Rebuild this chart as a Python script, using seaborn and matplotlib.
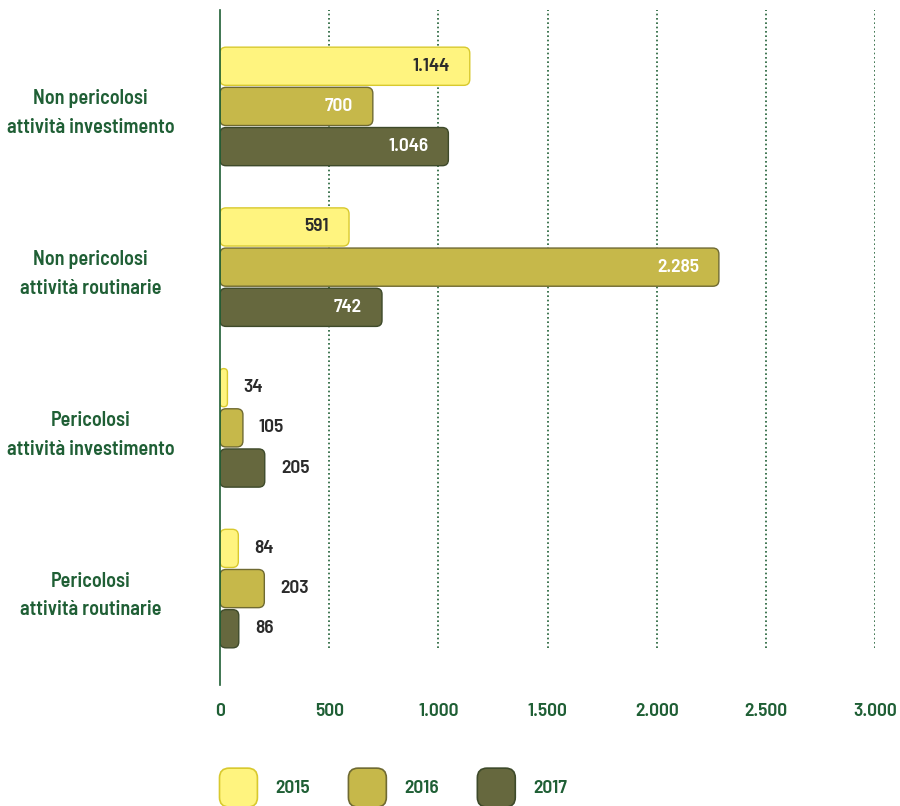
import matplotlib
matplotlib.use("Agg")
import matplotlib.pyplot as plt
from matplotlib.patches import FancyBboxPatch
from matplotlib.legend_handler import HandlerPatch
import seaborn as sns
import pandas as pd

categories = [
    "Non pericolosi\nattività investimento",
    "Non pericolosi\nattività routinarie",
    "Pericolosi\nattività investimento",
    "Pericolosi\nattività routinarie",
]
years = ["2015", "2016", "2017"]
values_2015 = [1144, 591, 34, 84]
values_2016 = [700, 2285, 105, 203]
values_2017 = [1046, 742, 205, 86]
x_ticks = [0, 500, 1000, 1500, 2000, 2500, 3000]
x_tick_labels = ["0", "500", "1.000", "1.500", "2.000", "2.500", "3.000"]

fill_colors = {"2015": "#fff47f", "2016": "#c6b84a", "2017": "#66683e"}
edge_colors = {"2015": "#d8c92e", "2016": "#6f6a32", "2017": "#3e4a2a"}
text_colors = {"2015": "#2b2b2b", "2016": "#ffffff", "2017": "#ffffff"}
green = "#1f5f35"

sns.set_theme(style="white")
plt.rcParams["font.family"] = ["Barlow Semi Condensed", "Barlow Condensed",
                               "Roboto Condensed", "Liberation Sans Narrow",
                               "DejaVu Sans"]
FS = 14
FW = 600

df = pd.DataFrame({
    "categoria": categories * 3,
    "anno": [y for y in years for _ in categories],
    "valore": values_2015 + values_2016 + values_2017,
})

fig = plt.figure(figsize=(9, 8.06), dpi=100)
ax = fig.add_axes([220 / 900, 1 - 685 / 806, 655 / 900, 675 / 806])

sns.barplot(data=df, y="categoria", x="valore", hue="anno", order=categories,
            hue_order=years, orient="h", width=0.75, gap=0.05,
            palette=fill_colors, ax=ax, legend=False)

ax.set_xlim(0, 3000)
ax.set_ylim(3.6, -0.6)

# Replace the plain rectangles with rounded bars
x_per_px = 3000 / 655
y_per_px = 4.2 / 675
aspect = y_per_px / x_per_px
bars = list(ax.patches)
for i, p in enumerate(bars):
    yr = years[i // len(categories)]
    x0, y0 = p.get_x(), p.get_y()
    w, h = p.get_width(), p.get_height()
    p.remove()
    r = min(6 * x_per_px, w / 2)
    fb = FancyBboxPatch((x0, y0), w, h,
                        boxstyle=f"round,pad=0,rounding_size={r}",
                        mutation_aspect=aspect,
                        facecolor=fill_colors[yr], edgecolor=edge_colors[yr],
                        linewidth=1.0, zorder=3)
    ax.add_patch(fb)
    val = w
    label = f"{int(round(val)):,}".replace(",", ".")
    yc = y0 + h / 2
    if val >= 500:
        ax.text(val - 20 * x_per_px, yc, label, ha="right", va="center",
                color=text_colors[yr], fontsize=FS, fontweight=FW, zorder=4)
    else:
        ax.text(val + 16 * x_per_px, yc, label, ha="left", va="center",
                color="#2b2b2b", fontsize=FS, fontweight=FW, zorder=4)

# Dotted gridlines (stopping short of the bottom) and the zero axis
ax.set_axisbelow(True)
for t in x_ticks[1:]:
    ax.axvline(t, ymin=37 / 675, ymax=1, color=green,
               linestyle=(0, (1, 1.6)), linewidth=1.2, zorder=0.5)
for s in ["top", "right", "bottom"]:
    ax.spines[s].set_visible(False)
ax.spines["left"].set_color(green)
ax.spines["left"].set_linewidth(1.2)
ax.spines["left"].set_zorder(5)

ax.set_xticks(x_ticks)
ax.set_xticklabels(x_tick_labels, color=green, fontsize=FS, fontweight=FW)
ax.tick_params(axis="x", length=0, pad=13)
ax.set_yticks(range(len(categories)))
ax.set_yticklabels(categories, color=green, fontsize=14.5, fontweight=FW,
                   ha="center", linespacing=1.65)
ax.tick_params(axis="y", length=0, pad=93)
ax.set_xlabel("")
ax.set_ylabel("")


class RoundHandler(HandlerPatch):
    def create_artists(self, legend, orig_handle, xdescent, ydescent,
                       width, height, fontsize, trans):
        p = FancyBboxPatch((-xdescent, -ydescent), width, height,
                           boxstyle="round,pad=0,rounding_size=7",
                           facecolor=orig_handle.get_facecolor(),
                           edgecolor=orig_handle.get_edgecolor(),
                           linewidth=1.2, transform=trans)
        return [p]


handles = [FancyBboxPatch((0, 0), 1, 1, facecolor=fill_colors[y],
                          edgecolor=edge_colors[y]) for y in years]
leg = fig.legend(handles, years, loc="lower left",
                 bbox_to_anchor=(202 / 900, -0.023), ncol=3, frameon=False,
                 handler_map={FancyBboxPatch: RoundHandler()},
                 handlelength=1.95, handleheight=2.7, handletextpad=0.9,
                 columnspacing=2.0, prop={"weight": FW, "size": FS})
for t in leg.get_texts():
    t.set_color(green)

fig.savefig("out.png", dpi=100)
